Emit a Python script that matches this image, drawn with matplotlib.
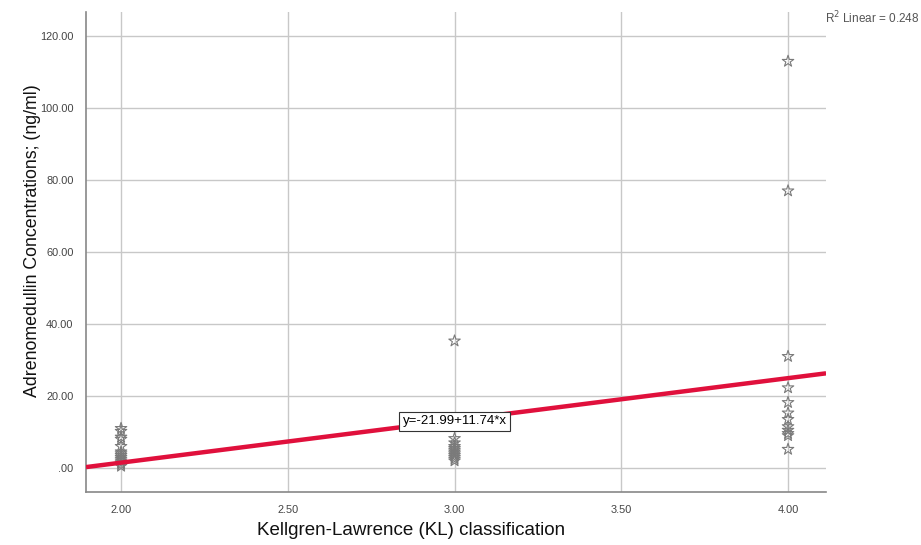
import matplotlib
matplotlib.use("Agg")
import matplotlib.pyplot as plt
import numpy as np

plt.rcParams["font.family"] = ["Liberation Sans", "DejaVu Sans"]

# KL grade groups and adrenomedullin values (ng/ml)
kl_grades = [2.0, 3.0, 4.0]
adm_kl2 = [11.0, 10.2, 8.6, 8.0, 6.0, 4.5, 4.0, 3.5, 3.0, 2.5, 2.0, 1.5, 1.0, 0.5]
adm_kl3 = [35.3, 8.2, 7.0, 6.0, 5.5, 5.0, 4.5, 4.0, 3.5, 3.0, 2.5, 2.0]
adm_kl4 = [113.0, 77.0, 31.0, 22.3, 18.2, 15.3, 13.5, 11.5, 10.5, 9.6, 9.0, 5.2]

# fit reported in the chart
intercept = -21.99
slope = 11.74
r2_text = "R$^2$ Linear = 0.248"

x_ticks = [2.0, 2.5, 3.0, 3.5, 4.0]
y_ticks = [0, 20, 40, 60, 80, 100, 120]

fig = plt.figure(figsize=(9.21, 5.45), dpi=100)
ax = fig.add_axes([0.0934, 0.0972, 0.8035, 0.8808])

grid_col = "#c8c8c8"
ax.set_axisbelow(True)
ax.grid(True, color=grid_col, linewidth=1.0)

for xv, vals in zip(kl_grades, [adm_kl2, adm_kl3, adm_kl4]):
    ax.scatter([xv] * len(vals), vals, marker="*", s=75, facecolors="none",
               edgecolors="#7a7a7a", linewidths=0.8, zorder=3)

xlim = (1.895, 4.114)
xs = np.array(xlim)
ax.plot(xs, intercept + slope * xs, color="#e0103c", linewidth=3.2, zorder=4,
        solid_capstyle="butt")

ax.set_xlim(*xlim)
ax.set_ylim(-6.67, 126.7)
ax.set_xticks(x_ticks)
ax.set_xticklabels([f"{v:.2f}" for v in x_ticks])
ax.set_yticks(y_ticks)
ax.set_yticklabels([".00" if v == 0 else f"{v:.2f}" for v in y_ticks])
ax.tick_params(axis="both", labelsize=7.9, colors="#444444", length=0, pad=9)

for side in ["top", "right"]:
    ax.spines[side].set_visible(False)
for side in ["left", "bottom"]:
    ax.spines[side].set_color("#888888")
    ax.spines[side].set_linewidth(1.2)

ax.set_xlabel("Kellgren-Lawrence (KL) classification", fontsize=13.5, color="#111111")
ax.xaxis.set_label_coords(0.439, -0.063)
ax.set_ylabel("Adrenomedullin Concentrations; (ng/ml)", fontsize=12.8, color="#111111")
ax.yaxis.set_label_coords(-0.0605, 0.523)

ax.text(3.0, 13.0, f"y={intercept:.2f}+{slope:.2f}*x", fontsize=9.5, ha="center",
        va="center", zorder=5,
        bbox=dict(boxstyle="square,pad=0.25", facecolor="white", edgecolor="#333333",
                  linewidth=0.8))

fig.text(825 / 921, 1 - 18 / 545, r2_text, fontsize=8.5, color="#555555",
         ha="left", va="center")

fig.savefig("out.png", dpi=100)
